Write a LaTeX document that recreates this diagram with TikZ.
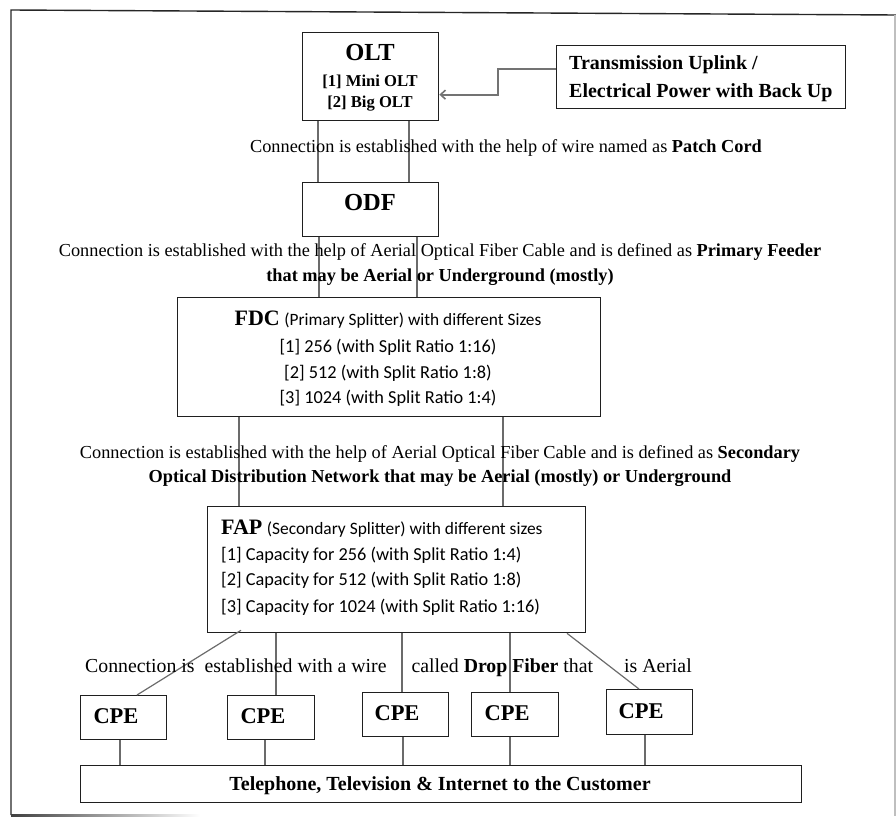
\documentclass[tikz,border=0pt]{standalone}
\usepackage{fontspec}
\setmainfont{Liberation Serif}
\newfontfamily\calibri{Carlito}
\usetikzlibrary{calc,arrows.meta}

\begin{document}
\begin{tikzpicture}[x=1pt,y=-1pt,
  box/.style={draw=black!88,line width=1.3pt,anchor=north west,inner sep=0pt},
  wire/.style={draw=black!58,line width=1.2pt},
  feed/.style={draw=black!55,line width=2.3pt,-{Straight Barb[length=5pt,width=9pt,line width=1.6pt]}},
  frame/.style={draw=black!85,line width=1.4pt},
  txt/.style={inner sep=0pt,anchor=base,font=\fontsize{18.3}{21}\selectfont},
  txb/.style={inner sep=0pt,anchor=base west,font=\bfseries\fontsize{20}{23}\selectfont},
  ttl/.style={inner sep=0pt,anchor=base,font=\bfseries\fontsize{24.5}{27}\selectfont},
  sub/.style={inner sep=0pt,anchor=base,font=\bfseries\fontsize{16.6}{19}\selectfont},
  cal/.style={inner sep=0pt,anchor=base,font=\calibri\fontsize{18.3}{21}\selectfont},
  calw/.style={cal,anchor=base west},
  cpe/.style={inner sep=0pt,anchor=base,font=\bfseries\fontsize{22.5}{25}\selectfont},
]
\useasboundingbox (0,0) rectangle (896,816);

% outer frame
\coordinate (fTL) at (11,10);
\coordinate (fTR) at (896,15);
\coordinate (fBL) at (11,815);
\coordinate (fBR) at (895,816);
\draw[frame] (fTR) -- (fTL) -- (fBL);
\draw[draw=black!25,line width=1.2pt] (895,15) -- (fBR);
\shade[left color=black!75,right color=white] (11,814.2) rectangle (200,816);

% boxes
\node[box,minimum width=136,minimum height=88] (olt) at (302,32) {};
\node[box,minimum width=289,minimum height=63] (tx) at (556,45) {};
\node[box,minimum width=136,minimum height=54] (odf) at (302,182) {};
\node[box,minimum width=423,minimum height=119] (fdc) at (177,297) {};
\node[box,minimum width=378,minimum height=126] (fap) at (207,506) {};
\node[box,minimum width=86,minimum height=44] (cpe1) at (80,695) {};
\node[box,minimum width=87,minimum height=44] (cpe2) at (227,695) {};
\node[box,minimum width=86,minimum height=44] (cpe3) at (362,692) {};
\node[box,minimum width=87,minimum height=44] (cpe4) at (471,692) {};
\node[box,minimum width=86,minimum height=45] (cpe5) at (606,689) {};
\node[box,minimum width=721,minimum height=37] (cust) at (80,765) {};

% box texts
\node[ttl] (oltT) at (370,60) {OLT};
\node[sub] (olt1) at (370,86) {[1] Mini OLT};
\node[sub] (olt2) at (370,107) {[2] Big OLT};
\node[txb] (tx1) at (569,70) {Transmission Uplink /};
\node[txb] (tx2) at (569,97) {Electrical Power with Back Up};
\node[ttl] (odfT) at (370,210) {ODF};

\node[txt] (fdcT) at (388,325) {{\bfseries\fontsize{22}{24}\selectfont FDC} {\calibri\fontsize{17.3}{20}\selectfont (Primary Splitter) with different Sizes}};
\node[cal] (fdc1) at (388,352) {[1] 256 (with Split Ratio 1:16)};
\node[cal] (fdc2) at (388,378) {[2] 512 (with Split Ratio 1:8)};
\node[cal] (fdc3) at (388,403) {[3] 1024 (with Split Ratio 1:4)};

\node[txt,anchor=base west] (fapT) at (221,534) {{\bfseries\fontsize{22}{24}\selectfont FAP} {\calibri\fontsize{17.4}{20}\selectfont (Secondary Splitter) with different sizes}};
\node[calw] (fap1) at (221,560) {[1] Capacity for 256 (with Split Ratio 1:4)};
\node[calw] (fap2) at (221,585) {[2] Capacity for 512 (with Split Ratio 1:8)};
\node[calw] (fap3) at (221,612) {[3] Capacity for 1024 (with Split Ratio 1:16)};

\node[cpe] (cpeT1) at (116,723) {CPE};
\node[cpe] (cpeT2) at (263,723) {CPE};
\node[cpe] (cpeT3) at (397,720) {CPE};
\node[cpe] (cpeT4) at (507,720) {CPE};
\node[cpe] (cpeT5) at (641,718) {CPE};
\node[inner sep=0pt,anchor=base,font=\bfseries\fontsize{20}{23}\selectfont] (custT) at (440,790) {Telephone, Television \& Internet to the Customer};

% connectors
\draw[feed] ([yshift=8.5pt]tx.west) -- ++(-58,0) |- ([yshift=-18pt]olt.east);

\draw[wire] ([xshift=16pt]olt.south west) -- ([xshift=16pt]odf.north west);
\draw[wire] ([xshift=107pt]olt.south west) -- ([xshift=107pt]odf.north west);

\draw[wire] ([xshift=17pt]odf.south west) -- ([xshift=142pt]fdc.north west);
\draw[wire] ([xshift=115pt]odf.south west) -- ([xshift=240pt]fdc.north west);

\draw[wire] ([xshift=62pt]fdc.south west) -- ([xshift=32pt]fap.north west);
\draw[wire] ([xshift=326pt]fdc.south west) -- ([xshift=296pt]fap.north west);

\draw[wire] ([xshift=34pt,yshift=3pt]fap.south west) -- ([xshift=57pt]cpe1.north west);
\draw[wire] ([xshift=69pt]fap.south west) -- ([xshift=49pt]cpe2.north west);
\draw[wire] ([xshift=195pt]fap.south west) -- ([xshift=40pt]cpe3.north west);
\draw[wire] ([xshift=303pt]fap.south west) -- ([xshift=39pt]cpe4.north west);
\draw[wire] ([xshift=360pt]fap.south west) -- ([xshift=33pt]cpe5.north west);

\draw[wire] ([xshift=40pt]cpe1.south west) -- ([xshift=40pt]cust.north west);
\draw[wire] ([xshift=38pt]cpe2.south west) -- ([xshift=185pt]cust.north west);
\draw[wire] ([xshift=41pt]cpe3.south west) -- ([xshift=323pt]cust.north west);
\draw[wire] ([xshift=39pt]cpe4.south west) -- ([xshift=430pt]cust.north west);
\draw[wire] ([xshift=39pt]cpe5.south west) -- ([xshift=565pt]cust.north west);

% connection labels
\node[txt] (pc) at (506,152) {Connection is established with the help of wire named as \textbf{Patch Cord}};
\node[txt] (pf1) at (440,256) {Connection is established with the help of Aerial Optical Fiber Cable and is defined as \textbf{Primary Feeder}};
\node[txt] (pf2) at (440,281) {\textbf{that may be Aerial or Underground (mostly)}};
\node[txt] (sd1) at (440,458) {Connection is established with the help of Aerial Optical Fiber Cable and is defined as \textbf{Secondary}};
\node[txt] (sd2) at (440,482) {\textbf{Optical Distribution Network that may be Aerial (mostly) or Underground}};
\node[txt,anchor=base west,font=\fontsize{19.8}{23}\selectfont] (df) at (85,672) {Connection is\hspace{5pt} established with a wire\hspace{20pt} called \textbf{Drop Fiber} that\hspace{26pt} is Aerial};
\end{tikzpicture}
\end{document}
